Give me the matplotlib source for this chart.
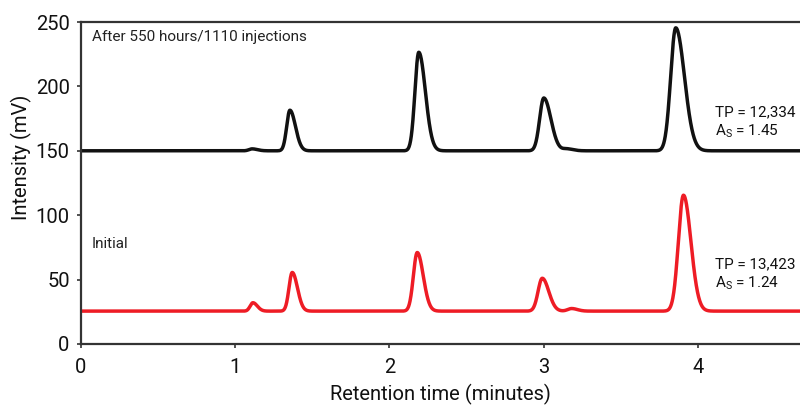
import numpy as np
import matplotlib
matplotlib.use("Agg")
import matplotlib.pyplot as plt

FONT = ["Roboto", "DejaVu Sans"]
plt.rcParams["font.family"] = FONT

# Peak tables: retention time (min), apex height (mV), width (min), tailing
aged_baseline = 150.0
aged_rt = [1.11, 1.355, 2.19, 3.00, 3.15, 3.855]
aged_height = [151.5, 181.5, 226.5, 191.0, 151.5, 245.5]
aged_sigma = [0.020, 0.021, 0.025, 0.027, 0.025, 0.033]
aged_tail = [1.7, 1.7, 1.7, 1.7, 1.6, 1.7]

initial_baseline = 25.5
initial_rt = [1.115, 1.37, 2.18, 2.99, 3.18, 3.905]
initial_height = [32.0, 55.5, 71.0, 51.0, 27.5, 115.5]
initial_sigma = [0.018, 0.021, 0.025, 0.027, 0.025, 0.033]
initial_tail = [1.6, 1.6, 1.55, 1.55, 1.5, 1.45]

x_ticks = [0, 1, 2, 3, 4]
y_ticks = [0, 50, 100, 150, 200, 250]


def chromatogram(t, baseline, rts, heights, sigmas, tails):
    y = np.full_like(t, baseline)
    for rt, h, s, k in zip(rts, heights, sigmas, tails):
        w = np.where(t < rt, s, s * k)
        y += (h - baseline) * np.exp(-0.5 * ((t - rt) / w) ** 2)
    return y


t = np.linspace(0, 4.7, 4000)
aged = chromatogram(t, aged_baseline, aged_rt, aged_height, aged_sigma, aged_tail)
initial = chromatogram(t, initial_baseline, initial_rt, initial_height,
                       initial_sigma, initial_tail)

fig = plt.figure(figsize=(8.0, 4.08), dpi=100)
ax = fig.add_axes([0.101, 0.157, 0.899, 0.789])

ax.plot(t, aged, color="#111111", lw=2.5, solid_capstyle="round")
ax.plot(t, initial, color="#ee1c25", lw=2.5, solid_capstyle="round")

ax.set_xlim(0, 4.66)
ax.set_ylim(0, 250)
ax.set_xticks(x_ticks)
ax.set_yticks(y_ticks)

for side in ("left", "bottom", "top"):
    ax.spines[side].set_linewidth(1.6)
    ax.spines[side].set_color("#333333")
ax.spines["right"].set_visible(False)

ax.tick_params(axis="both", direction="out", length=3, width=1.2,
               color="#333333", labelsize=14.5, labelcolor="#111111")
ax.tick_params(axis="x", pad=7)
ax.tick_params(axis="y", pad=5)

ax.set_xlabel("Retention time (minutes)", fontsize=14.5, color="#111111",
              labelpad=5)
ax.set_ylabel("Intensity (mV)", fontsize=14.5, color="#111111")
ax.yaxis.set_label_coords(-0.068, 0.58)

ax.text(0.07, 244, "After 550 hours/1110 injections", fontsize=11,
        color="#222222", va="top", ha="left")
ax.text(0.07, 78, "Initial", fontsize=11, color="#222222", va="center",
        ha="left")

ax.text(4.11, 180, "TP = 12,334", fontsize=11, color="#111111",
        va="center", ha="left")
ax.text(4.11, 165, r"A$_\mathregular{S}$ = 1.45", fontsize=11,
        color="#111111", va="center", ha="left")
ax.text(4.11, 62, "TP = 13,423", fontsize=11, color="#111111",
        va="center", ha="left")
ax.text(4.11, 47, r"A$_\mathregular{S}$ = 1.24", fontsize=11,
        color="#111111", va="center", ha="left")

fig.savefig("out.png", dpi=100, facecolor="white")
